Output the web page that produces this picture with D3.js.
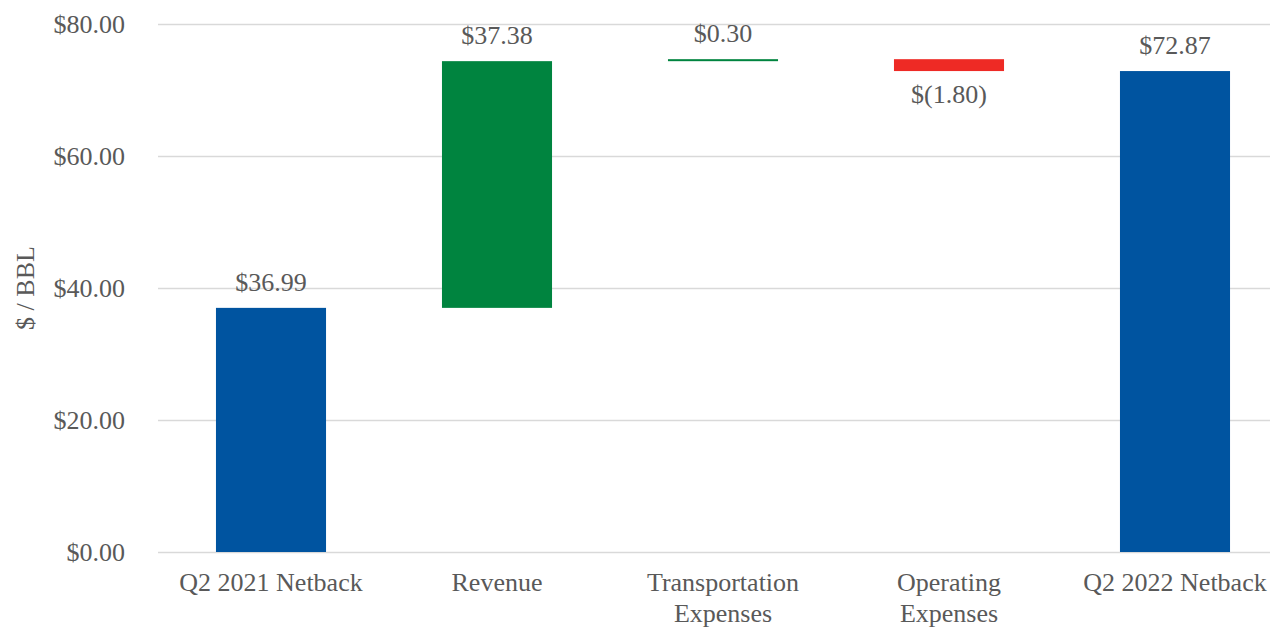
<!DOCTYPE html>
<html>
<head>
<meta charset="utf-8">
<script src="https://cdn.jsdelivr.net/npm/d3@7"></script>
<style>
  body { margin: 0; background: #fff; }
  text { font-family: "Liberation Serif", "Times New Roman", serif; fill: #595959; }
</style>
</head>
<body>
<svg id="chart"></svg>
<script>
// waterfall data
const categories = ["Q2 2021 Netback", "Revenue", "Transportation Expenses", "Operating Expenses", "Q2 2022 Netback"];
const values = [36.99, 37.38, 0.30, -1.80, 72.87];
const kinds = ["total", "delta", "delta", "delta", "total"];
const labels = ["$36.99", "$37.38", "$0.30", "$(1.80)", "$72.87"];
const yTicks = [0, 20, 40, 60, 80];

const width = 1278, height = 627;
const margin = {top: 24, right: 8, bottom: 75, left: 158};

const svg = d3.select("#chart").attr("width", width).attr("height", height);

// running totals for the floating bars
let run = 0;
const bars = categories.map((c, i) => {
    let y0, y1;
    if (kinds[i] === "total") { y0 = 0; y1 = values[i]; run = values[i]; }
    else { y0 = run; y1 = run + values[i]; run = y1; }
    return {cat: c, v: values[i], y0: y0, y1: y1, label: labels[i], kind: kinds[i]};
});

const x = d3.scaleBand()
    .domain(categories)
    .range([margin.left, margin.left + 5 * 226])
    .paddingInner(0.513)
    .paddingOuter(0.2565);

const y = d3.scaleLinear().domain([0, 80]).range([height - margin.bottom, margin.top]);

// gridlines + tick labels
const yAxis = svg.append("g")
    .attr("transform", `translate(${margin.left},0)`)
    .call(d3.axisLeft(y).tickValues(yTicks)
        .tickSize(-(width - margin.left - margin.right))
        .tickFormat(d => "$" + d3.format(".2f")(d)));
yAxis.select(".domain").remove();
yAxis.selectAll(".tick line").attr("stroke", "#d9d9d9").attr("stroke-width", 1.5);
yAxis.selectAll(".tick text")
    .attr("x", -33).attr("dy", "0.33em")
    .style("font-size", "26px").style("fill", "#595959");

// y title
svg.append("text")
    .attr("transform", `translate(34,${(margin.top + height - margin.bottom) / 2}) rotate(-90)`)
    .attr("text-anchor", "middle")
    .style("font-size", "26px")
    .text("$ / BBL");

function barColor(d) {
    if (d.kind === "total") return "#0054A0";
    return d.v >= 0 ? "#00843F" : "#EE2A25";
}

svg.selectAll("rect.bar")
    .data(bars)
    .enter()
    .append("rect")
    .attr("class", "bar")
    .attr("x", d => x(d.cat))
    .attr("width", x.bandwidth())
    .attr("y", d => y(Math.max(d.y0, d.y1)))
    .attr("height", d => Math.max(2, Math.abs(y(d.y0) - y(d.y1))))
    .attr("fill", barColor);

// value labels
svg.selectAll("text.val")
    .data(bars)
    .enter()
    .append("text")
    .attr("class", "val")
    .attr("x", d => x(d.cat) + x.bandwidth() / 2)
    .attr("y", d => d.v >= 0 ? y(Math.max(d.y0, d.y1)) - 17 : y(Math.min(d.y0, d.y1)) + 32)
    .attr("text-anchor", "middle")
    .style("font-size", "26px")
    .text(d => d.label);

// category labels, wrapped on two words for the expense items
const xl = svg.selectAll("text.cat")
    .data(categories)
    .enter()
    .append("text")
    .attr("class", "cat")
    .attr("text-anchor", "middle")
    .style("font-size", "26px")
    .attr("transform", d => `translate(${x(d) + x.bandwidth() / 2},591)`);

xl.each(function(d) {
    const lines = d.endsWith("Expenses") ? d.split(" ") : [d];
    d3.select(this).selectAll("tspan")
        .data(lines)
        .enter()
        .append("tspan")
        .attr("x", 0)
        .attr("dy", (l, i) => i === 0 ? 0 : 31)
        .text(l => l);
});
</script>
</body>
</html>
